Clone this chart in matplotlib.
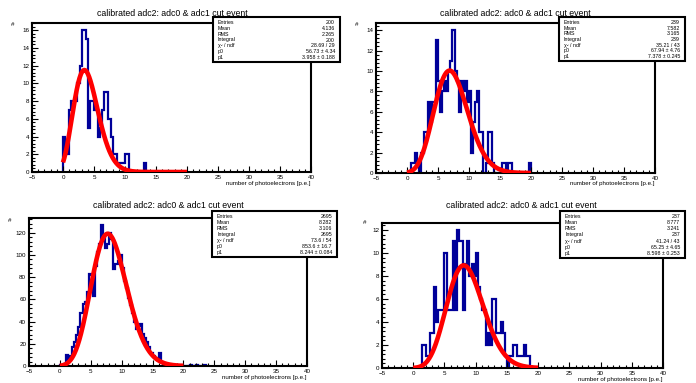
import math
import numpy as np
import matplotlib
matplotlib.use("Agg")
import matplotlib.pyplot as plt
from matplotlib.patches import Rectangle
from matplotlib.ticker import MultipleLocator

plt.rcParams['font.family'] = ['Liberation Sans', 'DejaVu Sans']

# ---------------- data ----------------
title = "calibrated adc2: adc0 & adc1 cut event"
xlabel = "number of photoelectrons [p.e.]"
ylabel = "#"
bin_width = 1 / 3
x_range = (-5, 40)
fit_range = (0, 20)

counts_1 = [4, 2, 2, 7, 8, 8, 8, 10, 12, 16, 16, 15, 5, 8, 8, 7, 7, 4, 5, 7,
            9, 9, 6, 4, 2, 2, 1, 1, 1, 1, 2, 2, 0, 0, 0, 0, 0, 0, 0, 1]
counts_2 = [0, 0, 1, 1, 2, 1, 0, 2, 4, 4, 7, 5, 7, 7, 13, 9, 6, 8, 9, 8,
            10, 11, 14, 10, 9, 6, 9, 8, 9, 7, 8, 2, 5, 7, 8, 4, 4, 0, 1, 4,
            4, 1, 0, 0, 0, 0, 1, 1, 0, 1, 1, 0, 0, 0, 0, 0, 0, 0, 0, 1]
counts_3 = [1, 0, 2, 10, 5, 9, 17, 22, 28, 35, 48, 56, 58, 67, 83, 82, 63, 90, 103, 110,
            127, 115, 106, 110, 120, 114, 87, 92, 95, 100, 88, 77, 70, 61, 55, 48, 40, 33, 36, 38,
            29, 25, 22, 17, 12, 9, 7, 5, 12, 4, 2, 2, 1, 1, 1, 0, 1, 0, 0, 0,
            0, 0, 0, 1, 0, 0, 1, 0, 0, 0, 1]
counts_4 = [0, 0, 0, 0, 2, 2, 1, 1, 3, 3, 7, 4, 5, 5, 5, 10, 5, 5, 5, 11,
            5, 12, 11, 11, 5, 9, 11, 8, 9, 8, 10, 7, 6, 5, 5, 2, 3, 2, 6, 6,
            3, 3, 4, 3, 1, 0, 1, 1, 2, 2, 1, 1, 1, 2, 1, 1]
all_counts = [counts_1, counts_2, counts_3, counts_4]

entries = ["200", "239", "2695", "237"]
means = ["4.136", "7.582", "8.282", "8.777"]
rms_values = ["2.265", "3.165", "3.106", "3.241"]
integrals = ["200", "239", "2695", "237"]
chi2_ndf = ["28.69 / 29", "35.21 / 43", "73.6 / 54", "41.24 / 43"]
p0_values = [56.73, 67.94, 853.6, 65.25]
p0_text = ["56.73 \u00b1 4.34", "67.94 \u00b1 4.76", "853.6 \u00b1 16.7", "65.25 \u00b1 4.65"]
p1_values = [3.958, 7.378, 8.244, 8.598]
p1_text = ["3.958 \u00b1 0.188", "7.378 \u00b1 0.245", "8.244 \u00b1 0.084", "8.598 \u00b1 0.253"]
y_major = [2, 2, 20, 2]
stat_labels = ["Entries", "Mean", "RMS", "Integral", "\u03c7\u00b2 / ndf", "p0", "p1"]

# ---------------- layout (pixels) ----------------
W, H = 696, 383
frames = [(32, 23, 311, 172), (376, 23, 655, 173), (29, 218, 307, 366), (382, 223, 663, 368)]
stat_boxes = [(213, 17, 340, 62), (559, 17, 685, 61), (212, 211, 337, 257), (560, 211, 685, 258)]
title_pos = [(172, 13), (515, 13), (168, 206), (521, 206)]
ylab_pos = [(13, 25), (357, 25), (10, 220), (365, 222)]

HIST_COLOR = "#000099"
FIT_COLOR = "#ff0000"


def fig_rect(l, t, r, b):
    return [l / W, 1 - b / H, (r - l) / W, (b - t) / H]


def poisson_fit(x, p0, p1):
    return np.array([p0 * math.exp(xi * math.log(p1) - p1 - math.lgamma(xi + 1)) for xi in x])


fig = plt.figure(figsize=(W / 100, H / 100), dpi=100)
fig.patch.set_facecolor("white")

for i in range(4):
    counts = np.array(all_counts[i], dtype=float)
    edges = np.arange(len(counts) + 1) * bin_width
    l, t, r, b = frames[i]
    ax = fig.add_axes(fig_rect(l, t, r, b))
    ax.stairs(counts, edges, color=HIST_COLOR, lw=1.6, baseline=0)
    xf = np.linspace(fit_range[0], fit_range[1], 300)
    ax.plot(xf, poisson_fit(xf, p0_values[i], p1_values[i]), color=FIT_COLOR, lw=3.3,
            solid_capstyle='butt', zorder=3)
    ax.set_xlim(*x_range)
    ax.set_ylim(0, 1.05 * counts.max())
    ax.xaxis.set_major_locator(MultipleLocator(5))
    ax.xaxis.set_minor_locator(MultipleLocator(1))
    ax.yaxis.set_major_locator(MultipleLocator(y_major[i]))
    ax.yaxis.set_minor_locator(MultipleLocator(y_major[i] / 5))
    ax.tick_params(which='both', direction='in', top=False, right=False,
                   labelsize=4.5, pad=2, color='black')
    ax.tick_params(which='major', length=4, width=0.8)
    ax.tick_params(which='minor', length=2, width=0.8)
    for s in ax.spines.values():
        s.set_linewidth(1.5)
    # title
    tx, ty = title_pos[i]
    fig.text(tx / W, 1 - ty / H, title, ha='center', va='center', fontsize=6.3)
    # x label
    fig.text(r / W, 1 - (b + 11) / H, xlabel, ha='right', va='center', fontsize=4.4)
    # y label
    yx, yy = ylab_pos[i]
    fig.text(yx / W, 1 - yy / H, ylabel, ha='center', va='center', fontsize=4.5)
    # stats box
    sl, st, sr, sb = stat_boxes[i]
    rect = Rectangle((sl / W, 1 - sb / H), (sr - sl) / W, (sb - st) / H,
                     transform=fig.transFigure, facecolor='white', edgecolor='black',
                     lw=1.5, zorder=10)
    fig.add_artist(rect)
    values = [entries[i], means[i], rms_values[i], integrals[i], chi2_ndf[i], p0_text[i], p1_text[i]]
    n = len(stat_labels)
    y0 = st + 5.5
    y1 = sb - 4.5
    for k in range(n):
        yk = y0 + (y1 - y0) * k / (n - 1)
        fig.text((sl + 5) / W, 1 - yk / H, stat_labels[k], ha='left', va='center', fontsize=3.8, zorder=11)
        fig.text((sr - 5) / W, 1 - yk / H, values[k], ha='right', va='center', fontsize=3.8, zorder=11)

fig.savefig("out.png", dpi=100, facecolor="white")
